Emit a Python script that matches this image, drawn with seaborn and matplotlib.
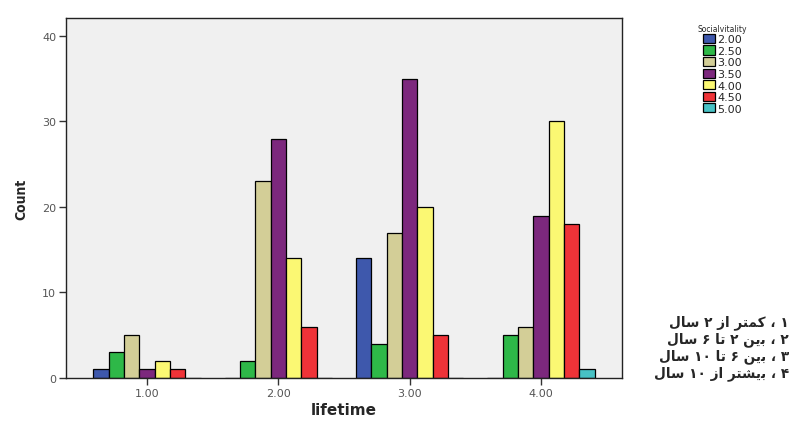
import matplotlib
matplotlib.use("Agg")
import matplotlib.pyplot as plt
import seaborn as sns
import pandas as pd

lifetime = ["1.00", "2.00", "3.00", "4.00"]
vitality = ["2.00", "2.50", "3.00", "3.50", "4.00", "4.50", "5.00"]
counts = {
    "2.00": [1, 0, 14, 0],
    "2.50": [3, 2, 4, 5],
    "3.00": [5, 23, 17, 6],
    "3.50": [1, 28, 35, 19],
    "4.00": [2, 14, 20, 30],
    "4.50": [1, 6, 5, 18],
    "5.00": [0, 0, 0, 1],
}
colors = ["#3E58AC", "#2EB848", "#D3CE97", "#7C287D", "#FBF873", "#EF3338", "#48C2C5"]
yticks = [0, 10, 20, 30, 40]
# Persian notes (visual order, Arabic presentation forms for correct display)
notes = [
    "\uFEDD\uFE8E\uFEB3 \u06F2 \uFEAF\uFE8D \uFEAE\uFE98\uFEE4\uFB90 \u060C \u06F1",
    "\uFEDD\uFE8E\uFEB3 \u06F6 \uFE8E\uFE97 \u06F2 \uFEE6\uFBFE\uFE91 \u060C \u06F2",
    "\uFEDD\uFE8E\uFEB3 \u06F1\u06F0 \uFE8E\uFE97 \u06F6 \uFEE6\uFBFE\uFE91 \u060C \u06F3",
    "\uFEDD\uFE8E\uFEB3 \u06F1\u06F0 \uFEAF\uFE8D \uFEAE\uFE98\uFEB8\uFBFE\uFE91 \u060C \u06F4",
]

rows = []
for v in vitality:
    for lt, c in zip(lifetime, counts[v]):
        rows.append({"lifetime": lt, "Socialvitality": v, "Count": c})
df = pd.DataFrame(rows)

sns.set_style("white")
plt.rcParams["font.family"] = ["DejaVu Sans"]

fig = plt.figure(figsize=(7.95, 4.27), dpi=100)
ax = fig.add_axes([66 / 795, 48 / 427, (622 - 66) / 795, (379 - 19) / 427])
ax.set_facecolor("#F0F0F0")

sns.barplot(data=df, x="lifetime", y="Count", hue="Socialvitality",
            order=lifetime, hue_order=vitality, palette=colors,
            width=0.82, edgecolor="black", linewidth=0.9, saturation=1,
            ax=ax, legend=True)

ax.set_xlim(-0.617, 3.617)
ax.set_ylim(0, 42.1)
ax.set_yticks(yticks)
ax.set_yticklabels([str(t) for t in yticks])
for s in ax.spines.values():
    s.set_visible(True)
    s.set_color("#222222")
    s.set_linewidth(1.0)
ax.tick_params(axis="both", which="both", direction="out", length=5, width=1,
               color="#333333", labelsize=8, labelcolor="#555555", pad=2,
               left=True, bottom=True)
ax.set_xlabel("lifetime", fontsize=11, fontweight="bold", labelpad=3)
ax.set_ylabel("Count", fontsize=10, fontweight="bold", labelpad=10,
              fontstretch="condensed")

handles, labels = ax.get_legend_handles_labels()
ax.legend_.remove()
leg = fig.legend(handles, labels, title="Socialvitality", loc="upper left",
                 bbox_to_anchor=(690 / 795, 1 - 17 / 427), frameon=False,
                 fontsize=8, title_fontsize=5.5, handlelength=1.1,
                 handleheight=0.9, labelspacing=0.1, handletextpad=0.2,
                 borderpad=0.2)

for i, t in enumerate(notes):
    fig.text(789 / 795, 1 - (323 + i * 17) / 427, t, ha="right", va="center",
             fontsize=9.8, fontweight="bold", family=["DejaVu Sans"])

fig.savefig("out.png", dpi=100, facecolor="white")
